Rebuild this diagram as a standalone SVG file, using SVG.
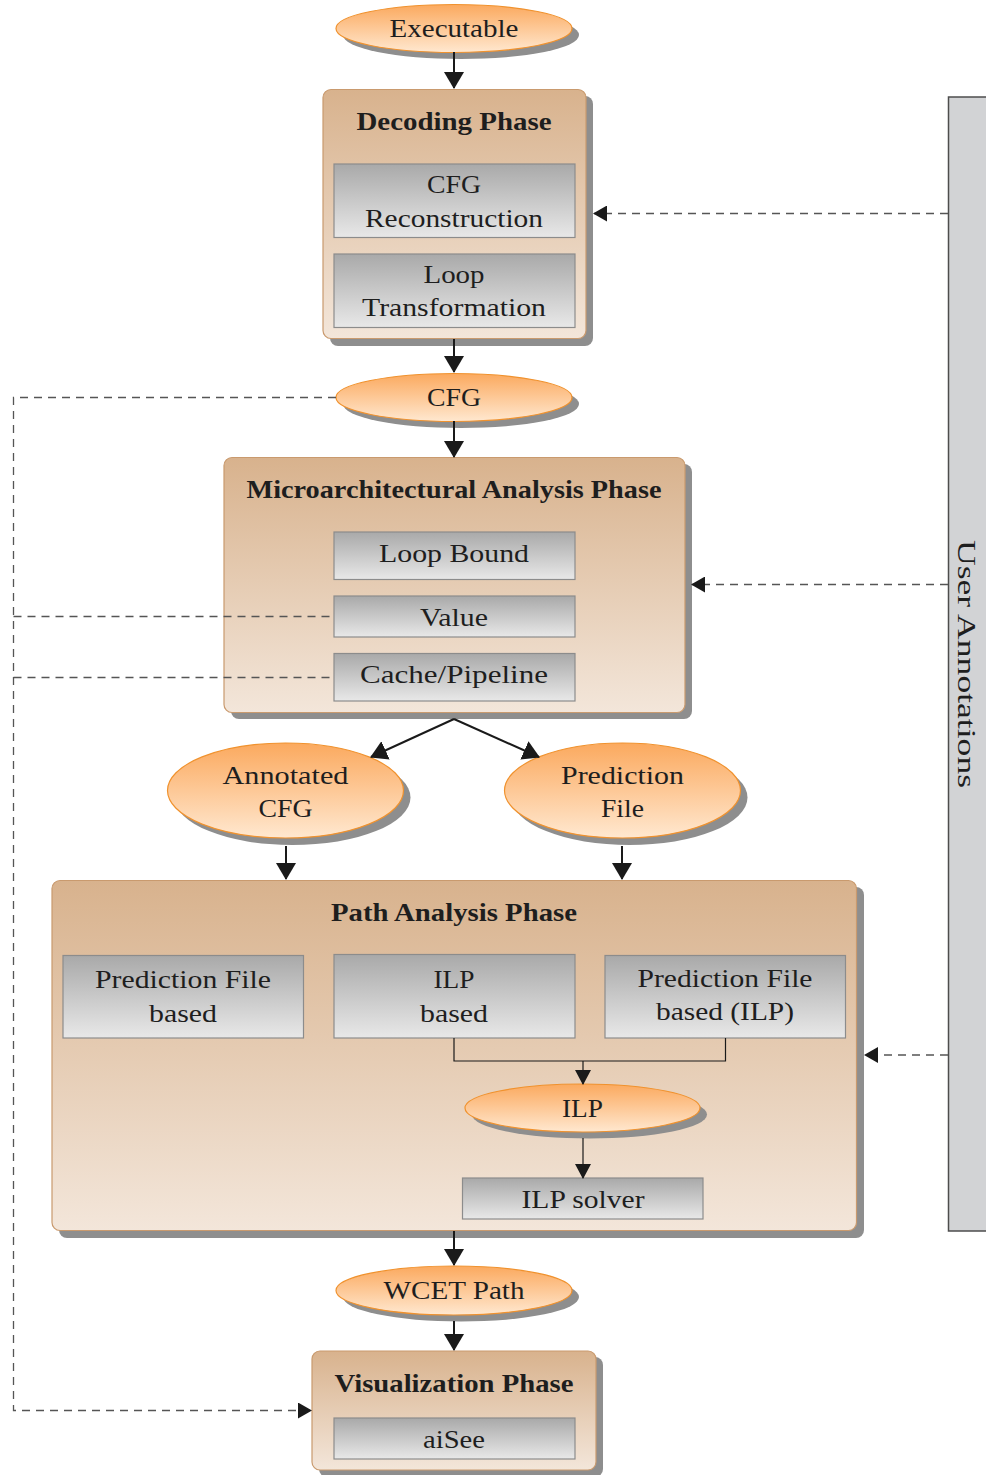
<svg xmlns="http://www.w3.org/2000/svg" width="986" height="1475" viewBox="0 0 986 1475">
  <defs>
    <linearGradient id="gOval" x1="0" y1="0" x2="0" y2="1">
      <stop offset="0" stop-color="#fba95e"/>
      <stop offset="1" stop-color="#ffe8d0"/>
    </linearGradient>
    <linearGradient id="gPhase" x1="0" y1="0" x2="0" y2="1">
      <stop offset="0" stop-color="#d8b28d"/>
      <stop offset="1" stop-color="#f3e6da"/>
    </linearGradient>
    <linearGradient id="gStep" x1="0" y1="0" x2="0" y2="1">
      <stop offset="0" stop-color="#a9a9a9"/>
      <stop offset="1" stop-color="#e8e8e8"/>
    </linearGradient>
    <marker id="ah" viewBox="0 0 17 20" markerWidth="17" markerHeight="20" refX="16" refY="10" orient="auto" markerUnits="userSpaceOnUse">
      <path d="M0,0 L17,10 L0,20 Z" fill="#1a1a1a"/>
    </marker>
    <marker id="ahs" viewBox="0 0 15 16" markerWidth="15" markerHeight="16" refX="14" refY="8" orient="auto" markerUnits="userSpaceOnUse">
      <path d="M0,0 L15,8 L0,16 Z" fill="#1a1a1a"/>
    </marker>
    <marker id="ahd" viewBox="0 0 14 16" markerWidth="14" markerHeight="16" refX="13" refY="8" orient="auto" markerUnits="userSpaceOnUse">
      <path d="M0,0 L14,8 L0,16 Z" fill="#1a1a1a"/>
    </marker>
  </defs>
  <style>
    text { font-family: "Liberation Serif", "Times New Roman", serif; font-size: 26px; fill: #1e1e1e; text-anchor: middle; }
    .title { font-weight: bold; }
    .shadow { fill: #8e8e8e; }
    .oval { fill: url(#gOval); stroke: #f0922e; stroke-width: 1.2; }
    .phase { fill: url(#gPhase); stroke: #c99a6e; stroke-width: 1.2; }
    .step { fill: url(#gStep); stroke: #8c8c8c; stroke-width: 1.2; }
    .flow { fill: none; stroke: #1a1a1a; stroke-width: 2; }
    .thin { fill: none; stroke: #1a1a1a; stroke-width: 1.2; }
    .dash { fill: none; stroke: #555; stroke-width: 1.3; stroke-dasharray: 8 6; }
    .bar { fill: #d2d3d5; stroke: #4d4d4d; stroke-width: 1.5; }
  </style>

  <!-- side bar -->
  <g id="user-annotations">
    <path class="bar" d="M990,97 L948.5,97 L948.5,1231 L990,1231"/>
    <text transform="translate(958,664) rotate(90)" font-size="28" textLength="248" lengthAdjust="spacingAndGlyphs">User Annotations</text>
  </g>

  <g id="executable">
    <ellipse class="shadow" cx="461" cy="35" rx="118" ry="24"/>
    <ellipse class="oval" cx="454" cy="28.5" rx="118" ry="24"/>
    <text x="454" y="37" textLength="129" lengthAdjust="spacingAndGlyphs">Executable</text>
  </g>

  <g id="decoding-phase">
    <rect class="shadow" x="330" y="96" width="263" height="250" rx="8"/>
    <rect class="phase" x="323" y="89.5" width="263" height="249" rx="8"/>
    <text class="title" x="454" y="130" textLength="195" lengthAdjust="spacingAndGlyphs">Decoding Phase</text>
    <g id="cfg-reconstruction">
      <rect class="step" x="334" y="164" width="241" height="73.5"/>
      <text x="454" y="193" textLength="54" lengthAdjust="spacingAndGlyphs">CFG</text>
      <text x="454" y="227" textLength="178" lengthAdjust="spacingAndGlyphs">Reconstruction</text>
    </g>
    <g id="loop-transformation">
      <rect class="step" x="334" y="254" width="241" height="73.5"/>
      <text x="454" y="283" textLength="61" lengthAdjust="spacingAndGlyphs">Loop</text>
      <text x="454" y="316" textLength="184" lengthAdjust="spacingAndGlyphs">Transformation</text>
    </g>
  </g>

  <g id="cfg">
    <ellipse class="shadow" cx="461" cy="404" rx="118" ry="24"/>
    <ellipse class="oval" cx="454" cy="397.5" rx="118" ry="24"/>
    <text x="454" y="406" textLength="54" lengthAdjust="spacingAndGlyphs">CFG</text>
  </g>

  <g id="microarchitectural-phase">
    <rect class="shadow" x="231" y="464" width="461" height="255" rx="8"/>
    <rect class="phase" x="224" y="457.5" width="461" height="255" rx="8"/>
    <text class="title" x="454" y="498" textLength="415" lengthAdjust="spacingAndGlyphs">Microarchitectural Analysis Phase</text>
    <g id="loop-bound">
      <rect class="step" x="334" y="532" width="241" height="47.5"/>
      <text x="454" y="562" textLength="150" lengthAdjust="spacingAndGlyphs">Loop Bound</text>
    </g>
    <g id="value">
      <rect class="step" x="334" y="596" width="241" height="41"/>
      <text x="454" y="626" textLength="68" lengthAdjust="spacingAndGlyphs">Value</text>
    </g>
    <g id="cache-pipeline">
      <rect class="step" x="334" y="653.5" width="241" height="47.5"/>
      <text x="454" y="683" textLength="188" lengthAdjust="spacingAndGlyphs">Cache/Pipeline</text>
    </g>
  </g>

  <g id="annotated-cfg">
    <ellipse class="shadow" cx="292.5" cy="797.5" rx="118" ry="47.5"/>
    <ellipse class="oval" cx="285.5" cy="790.5" rx="118" ry="47.5"/>
    <text x="285.5" y="784" textLength="126" lengthAdjust="spacingAndGlyphs">Annotated</text>
    <text x="285.5" y="817" textLength="54" lengthAdjust="spacingAndGlyphs">CFG</text>
  </g>

  <g id="prediction-file">
    <ellipse class="shadow" cx="629.5" cy="797.5" rx="118" ry="47.5"/>
    <ellipse class="oval" cx="622.5" cy="790.5" rx="118" ry="47.5"/>
    <text x="622.5" y="784" textLength="123" lengthAdjust="spacingAndGlyphs">Prediction</text>
    <text x="622.5" y="817" textLength="43" lengthAdjust="spacingAndGlyphs">File</text>
  </g>

  <g id="path-analysis-phase">
    <rect class="shadow" x="59" y="887" width="805" height="351" rx="8"/>
    <rect class="phase" x="52" y="880.5" width="804.5" height="350" rx="8"/>
    <text class="title" x="454" y="921" textLength="246" lengthAdjust="spacingAndGlyphs">Path Analysis Phase</text>
    <g id="prediction-file-based">
      <rect class="step" x="63" y="955.5" width="240.5" height="82.5"/>
      <text x="183" y="988" textLength="176" lengthAdjust="spacingAndGlyphs">Prediction File</text>
      <text x="183" y="1022" textLength="68" lengthAdjust="spacingAndGlyphs">based</text>
    </g>
    <g id="ilp-based">
      <rect class="step" x="334" y="954.5" width="241" height="83.5"/>
      <text x="454" y="988" textLength="41" lengthAdjust="spacingAndGlyphs">ILP</text>
      <text x="454" y="1022" textLength="68" lengthAdjust="spacingAndGlyphs">based</text>
    </g>
    <g id="prediction-file-based-ilp">
      <rect class="step" x="605" y="955.5" width="240.5" height="82.5"/>
      <text x="725" y="987" textLength="175" lengthAdjust="spacingAndGlyphs">Prediction File</text>
      <text x="725" y="1020" textLength="138" lengthAdjust="spacingAndGlyphs">based (ILP)</text>
    </g>
    <g id="ilp">
      <ellipse class="shadow" cx="589.5" cy="1114.5" rx="117.5" ry="24"/>
      <ellipse class="oval" cx="582.5" cy="1108" rx="117.5" ry="24"/>
      <text x="582.5" y="1117" textLength="41" lengthAdjust="spacingAndGlyphs">ILP</text>
    </g>
    <g id="ilp-solver">
      <rect class="step" x="462.5" y="1178" width="240.5" height="41"/>
      <text x="583" y="1208" textLength="123" lengthAdjust="spacingAndGlyphs">ILP solver</text>
    </g>
  </g>

  <g id="wcet-path">
    <ellipse class="shadow" cx="461" cy="1297" rx="118" ry="24.5"/>
    <ellipse class="oval" cx="454" cy="1290.5" rx="118" ry="24.5"/>
    <text x="454" y="1299" textLength="141" lengthAdjust="spacingAndGlyphs">WCET Path</text>
  </g>

  <g id="visualization-phase">
    <rect class="shadow" x="319" y="1357" width="284" height="120" rx="8"/>
    <rect class="phase" x="312" y="1351" width="284" height="119" rx="8"/>
    <text class="title" x="454" y="1392" textLength="239" lengthAdjust="spacingAndGlyphs">Visualization Phase</text>
    <g id="aisee">
      <rect class="step" x="334" y="1418" width="241" height="41"/>
      <text x="454" y="1448" textLength="62" lengthAdjust="spacingAndGlyphs">aiSee</text>
    </g>
  </g>

  <!-- connectors, drawn above the phase boxes -->
  <g id="connectors">
    <line class="flow" x1="454" y1="52" x2="454" y2="88" marker-end="url(#ah)"/>
    <line class="flow" x1="454" y1="339" x2="454" y2="372" marker-end="url(#ah)"/>
    <line class="flow" x1="454" y1="421" x2="454" y2="457" marker-end="url(#ah)"/>
    <line class="flow" x1="454" y1="719" x2="371" y2="757" marker-end="url(#ah)"/>
    <line class="flow" x1="454" y1="719" x2="539" y2="757" marker-end="url(#ah)"/>
    <line class="flow" x1="286" y1="846" x2="286" y2="879" marker-end="url(#ah)"/>
    <line class="flow" x1="622" y1="846" x2="622" y2="879" marker-end="url(#ah)"/>
    <line class="flow" x1="454" y1="1231" x2="454" y2="1265" marker-end="url(#ah)"/>
    <line class="flow" x1="454" y1="1321" x2="454" y2="1350" marker-end="url(#ah)"/>
    <!-- inside path analysis -->
    <path class="thin" d="M454,1038 L454,1061 L725.5,1061 L725.5,1038"/>
    <line class="thin" x1="583" y1="1061" x2="583" y2="1084" marker-end="url(#ahs)"/>
    <line class="thin" x1="583" y1="1138" x2="583" y2="1178" marker-end="url(#ahs)"/>
    <!-- user annotation feeds -->
    <line class="dash" x1="948" y1="213.5" x2="594" y2="213.5" marker-end="url(#ahd)"/>
    <line class="dash" x1="948" y1="584.5" x2="692" y2="584.5" marker-end="url(#ahd)"/>
    <line class="dash" x1="948" y1="1055" x2="865" y2="1055" marker-end="url(#ahd)"/>
    <!-- left feeds to visualization -->
    <path class="dash" d="M336,397.5 L13.5,397.5 L13.5,1410.5 L311,1410.5" marker-end="url(#ahd)"/>
    <line class="dash" x1="13.5" y1="616.5" x2="334" y2="616.5"/>
    <line class="dash" x1="13.5" y1="677.5" x2="334" y2="677.5"/>
  </g>
</svg>
